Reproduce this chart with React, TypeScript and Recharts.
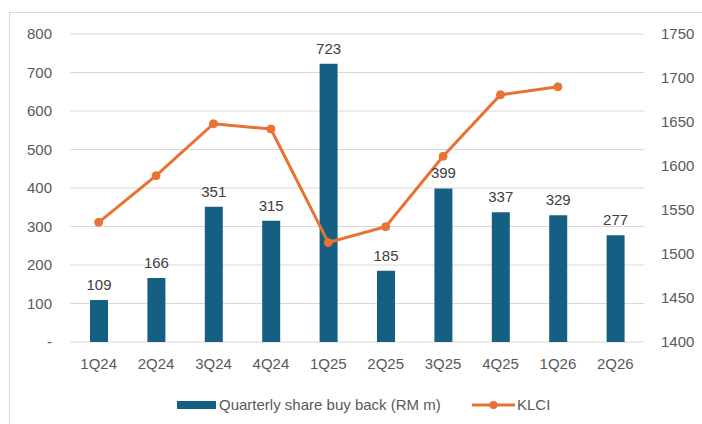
import React from 'react';
import {
  ComposedChart,
  Bar,
  Line,
  XAxis,
  YAxis,
  CartesianGrid,
  Legend,
  LabelList,
} from 'recharts';

const quarters = ['1Q24', '2Q24', '3Q24', '4Q24', '1Q25', '2Q25', '3Q25', '4Q25', '1Q26', '2Q26'];
const buyBack = [109, 166, 351, 315, 723, 185, 399, 337, 329, 277];
const klci: (number | null)[] = [1536, 1589, 1648, 1642, 1513, 1531, 1611, 1681, 1690, null];

const leftTicks = [0, 100, 200, 300, 400, 500, 600, 700, 800];
const rightTicks = [1400, 1450, 1500, 1550, 1600, 1650, 1700, 1750];

const BAR_COLOR = '#156082';
const LINE_COLOR = '#E97132';
const FONT = "'Liberation Sans', Arial, sans-serif";

const data = quarters.map((q, i) => ({ quarter: q, buyBack: buyBack[i], klci: klci[i] }));

const LegendContent = () => (
  <div
    style={{
      display: 'flex',
      alignItems: 'center',
      fontFamily: FONT,
      fontSize: 15,
      color: '#595959',
      paddingLeft: 177,
      whiteSpace: 'nowrap',
    }}
  >
    <span style={{ display: 'inline-block', width: 39, height: 8, background: BAR_COLOR, marginRight: 3 }} />
    <span style={{ display: 'inline-block', width: 253 }}>Quarterly share buy back (RM m)</span>
    <svg width={43} height={12} style={{ marginRight: 2 }}>
      <line x1={0} y1={6} x2={43} y2={6} stroke={LINE_COLOR} strokeWidth={3} />
      <circle cx={21.5} cy={6} r={4} fill={LINE_COLOR} />
    </svg>
    <span>KLCI</span>
  </div>
);

const App: React.FC = () => {
  return (
    <div style={{ position: 'absolute', left: 0, top: 0, width: 702, height: 424, background: '#fff' }}>
      <div
        style={{
          position: 'absolute',
          left: 9,
          top: 12,
          width: 693,
          height: 412,
          borderTop: '1px solid #d9d9d9',
          borderLeft: '1px solid #d9d9d9',
        }}
      />
      <div style={{ position: 'absolute', left: 0, top: 0 }}>
        <ComposedChart
          width={702}
          height={424}
          data={data}
          margin={{ top: 34, right: 0, bottom: 52, left: 0 }}
          barSize={18}
        >
          <CartesianGrid yAxisId="left" vertical={false} stroke="#d9d9d9" strokeWidth={1} />
          <XAxis
            dataKey="quarter"
            axisLine={false}
            tickLine={false}
            tickSize={0}
            tickMargin={16}
            height={30}
            interval={0}
            tick={{ fill: '#595959', fontSize: 15, fontFamily: FONT }}
          />
          <YAxis
            yAxisId="left"
            domain={[0, 800]}
            ticks={leftTicks}
            width={70}
            axisLine={false}
            tickLine={false}
            tickSize={0}
            tickMargin={18}
            tickFormatter={(v: number) => (v === 0 ? '-' : String(v))}
            tick={{ fill: '#595959', fontSize: 15, fontFamily: FONT }}
          />
          <YAxis
            yAxisId="right"
            orientation="right"
            domain={[1400, 1750]}
            ticks={rightTicks}
            width={58}
            axisLine={false}
            tickLine={false}
            tickSize={0}
            tickMargin={17}
            tick={{ fill: '#595959', fontSize: 15, fontFamily: FONT }}
          />
          <Bar yAxisId="left" dataKey="buyBack" fill={BAR_COLOR} isAnimationActive={false}>
            <LabelList
              dataKey="buyBack"
              position="top"
              offset={10}
              fill="#404040"
              fontSize={15}
              fontFamily={FONT}
            />
          </Bar>
          <Line
            yAxisId="right"
            dataKey="klci"
            stroke={LINE_COLOR}
            strokeWidth={3}
            dot={{ r: 4, fill: LINE_COLOR, stroke: LINE_COLOR, strokeWidth: 1 }}
            activeDot={false}
            isAnimationActive={false}
          />
          <Legend
            verticalAlign="middle"
            align="center"
            layout="horizontal"
            wrapperStyle={{ top: 396, left: 0, width: 702 }}
            content={<LegendContent />}
          />
        </ComposedChart>
      </div>
    </div>
  );
};

export default App;
